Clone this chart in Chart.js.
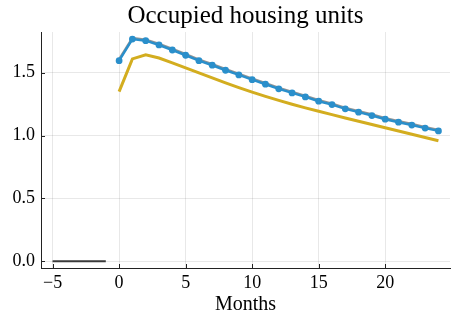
<!DOCTYPE html>
<html>
<head>
<meta charset="utf-8">
<script src="https://cdn.jsdelivr.net/npm/chart.js@4.4.1/dist/chart.umd.min.js"></script>
<style>
html,body{margin:0;padding:0;background:#fff;}
#wrap{width:454px;height:314px;}
</style>
</head>
<body>
<div id="wrap"><canvas id="c" width="454" height="314"></canvas></div>
<script>
const titleText = "Occupied housing units";
const xAxisTitle = "Months";
const months = [0,1,2,3,4,5,6,7,8,9,10,11,12,13,14,15,16,17,18,19,20,21,22,23,24];
const blueValues = [1.595,1.767,1.754,1.720,1.680,1.638,1.595,1.559,1.519,1.482,1.444,1.408,1.371,1.339,1.307,1.273,1.246,1.212,1.186,1.159,1.130,1.106,1.083,1.059,1.037];
const greyValues = [1.605,1.775,1.762,1.728,1.688,1.646,1.603,1.567,1.527,1.490,1.452,1.416,1.379,1.347,1.315,1.281,1.254,1.220,1.194,1.167,1.138,1.114,1.091,1.067,1.045];
const yellowValues = [1.349,1.609,1.641,1.616,1.578,1.538,1.498,1.458,1.419,1.381,1.345,1.311,1.279,1.249,1.220,1.193,1.166,1.140,1.114,1.088,1.062,1.036,1.010,0.984,0.958];
const preMonths = [-5,-4,-3,-2,-1];
const preValues = [0,0,0,0,0];
const xTickValues = [-5,0,5,10,15,20];
const yTickValues = [0,0.5,1.0,1.5];

const serif = "'Liberation Serif', 'DejaVu Serif', serif";

const toXY = (xs, ys) => xs.map((x, i) => ({x: x, y: ys[i]}));

const titlePlugin = {
  id: 'centeredTitle',
  afterDraw(chart) {
    const ctx = chart.ctx, a = chart.chartArea;
    ctx.save();
    ctx.font = "25px " + serif;
    ctx.fillStyle = "#000";
    ctx.textAlign = "center";
    ctx.textBaseline = "alphabetic";
    ctx.fillText(titleText, (a.left + a.right) / 2, 23);
    ctx.restore();
  }
};

const innerTicks = {
  id: 'innerTicks',
  afterDatasetsDraw(chart) {
    const ctx = chart.ctx, a = chart.chartArea;
    const xs = chart.scales.x, ys = chart.scales.y;
    ctx.save();
    ctx.strokeStyle = "#222";
    ctx.lineWidth = 1;
    ctx.beginPath();
    xTickValues.forEach(v => {
      const px = Math.round(xs.getPixelForValue(v)) + 0.5;
      ctx.moveTo(px, a.bottom); ctx.lineTo(px, a.bottom - 4);
    });
    yTickValues.forEach(v => {
      const py = Math.round(ys.getPixelForValue(v)) + 0.5;
      ctx.moveTo(a.left, py); ctx.lineTo(a.left + 4, py);
    });
    ctx.stroke();
    ctx.restore();
  }
};

new Chart(document.getElementById('c'), {
  type: 'line',
  data: {
    datasets: [
      {data: toXY(preMonths, preValues), borderColor: '#3a3a3a', borderWidth: 2, pointRadius: 0, order: 4},
      {data: toXY(months, greyValues), borderColor: 'rgba(120,120,120,0.8)', borderWidth: 2.5, pointRadius: 0, order: 3},
      {data: toXY(months, yellowValues), borderColor: '#d3ad1f', borderWidth: 3, pointRadius: 0, order: 2},
      {data: toXY(months, blueValues), borderColor: '#2a8fcb', backgroundColor: '#2a8fcb', borderWidth: 2.5,
       pointRadius: 3.4, pointBorderWidth: 0, pointBackgroundColor: '#2a8fcb', order: 1}
    ]
  },
  options: {
    responsive: false,
    animation: false,
    devicePixelRatio: 1,
    layout: {padding: {top: 32, right: 0, left: 0, bottom: 0}},
    plugins: {legend: {display: false}, title: {display: false}, tooltip: {enabled: false}},
    scales: {
      x: {
        type: 'linear', min: -5.87, max: 24.87,
        afterBuildTicks: s => { s.ticks = xTickValues.map(v => ({value: v})); },
        afterFit: s => { s.height = 46; },
        ticks: {
          font: {family: serif, size: 18}, color: '#000', padding: 4, maxRotation: 0,
          callback: v => (v < 0 ? '\u2212' + Math.abs(v) : String(v))
        },
        grid: {color: 'rgba(0,0,0,0.09)', lineWidth: 1, drawTicks: false},
        border: {display: true, color: '#222', width: 1},
        title: {display: true, text: xAxisTitle, font: {family: serif, size: 20, lineHeight: 1}, color: '#000', padding: {top: 0, bottom: -1}}
      },
      y: {
        type: 'linear', min: -0.053, max: 1.823,
        afterBuildTicks: s => { s.ticks = yTickValues.map(v => ({value: v})); },
        afterFit: s => { s.width = 41; },
        ticks: {
          font: {family: serif, size: 18}, color: '#000', padding: 6,
          callback: v => Number(v).toFixed(1)
        },
        grid: {color: 'rgba(0,0,0,0.09)', lineWidth: 1, drawTicks: false},
        border: {display: true, color: '#222', width: 1}
      }
    }
  },
  plugins: [titlePlugin, innerTicks]
});
</script>
</body>
</html>
